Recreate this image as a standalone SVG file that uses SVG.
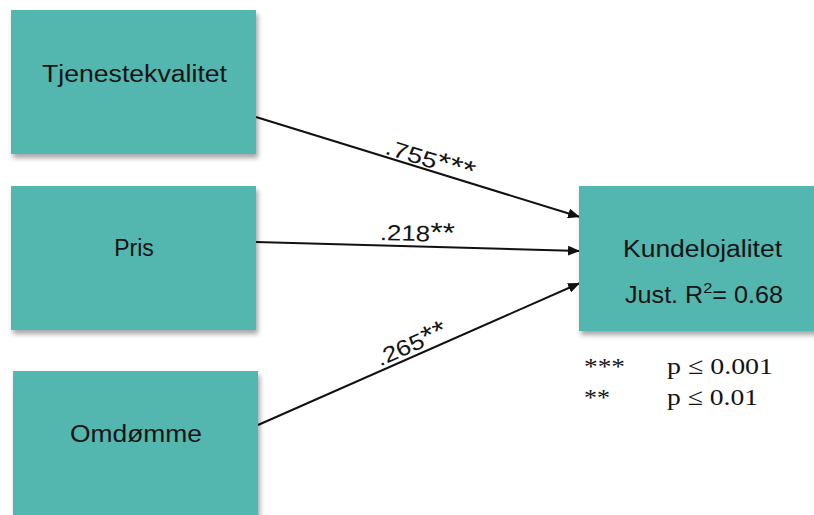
<svg xmlns="http://www.w3.org/2000/svg" width="814" height="515" viewBox="0 0 814 515">
  <style>
    .box { fill: #53b6af; filter: url(#shadow); }
    .lbl { font-family: "Liberation Sans", Arial, sans-serif; font-size: 23px; fill: #141414; text-anchor: middle; }
    .coef { font-family: "Liberation Sans", Arial, sans-serif; font-size: 22px; fill: #141414; text-anchor: middle; }
    .star { font-size: 27px; }
    .leg { font-family: "Liberation Serif", "Times New Roman", serif; font-size: 24px; fill: #141414; }
    .conn line { stroke: #111; stroke-width: 2; marker-end: url(#arrow); }
  </style>
  <defs>
    <filter id="shadow" x="-10%" y="-10%" width="130%" height="130%">
      <feDropShadow dx="2" dy="4" stdDeviation="2.5" flood-color="#000" flood-opacity="0.35"/>
    </filter>
    <marker id="arrow" viewBox="0 0 12 10" refX="12" refY="5" markerWidth="12" markerHeight="10" markerUnits="userSpaceOnUse" orient="auto">
      <path d="M0,0 L12,5 L0,10 Z" fill="#111"/>
    </marker>
  </defs>

  <rect width="814" height="515" fill="#fff"/>

  <!-- connectors with their path coefficients -->
  <g id="connectors" class="conn">
    <line x1="256" y1="117" x2="580" y2="217"/>
    <line x1="256" y1="242" x2="580" y2="251"/>
    <line x1="258" y1="425" x2="580" y2="283"/>
    <g transform="translate(427,170) rotate(17.2)">
      <text class="coef" x="0" y="-3" textLength="92" lengthAdjust="spacingAndGlyphs">.755<tspan class="star">***</tspan></text>
    </g>
    <g transform="translate(417,245) rotate(1.6)">
      <text class="coef" x="0" y="-4" textLength="75" lengthAdjust="spacingAndGlyphs">.218<tspan class="star">**</tspan></text>
    </g>
    <g transform="translate(416,355) rotate(-23.8)">
      <text class="coef" x="0" y="-4" textLength="75" lengthAdjust="spacingAndGlyphs">.265<tspan class="star">**</tspan></text>
    </g>
  </g>

  <g id="tjenestekvalitet">
    <rect class="box" x="11" y="10" width="245" height="144"/>
    <text class="lbl" x="134.5" y="82" textLength="185" lengthAdjust="spacingAndGlyphs">Tjenestekvalitet</text>
  </g>

  <g id="pris">
    <rect class="box" x="11" y="186" width="245" height="144"/>
    <text class="lbl" x="134" y="256">Pris</text>
  </g>

  <g id="omdomme">
    <rect class="box" x="13" y="371" width="245" height="160"/>
    <text class="lbl" x="136" y="442" textLength="132" lengthAdjust="spacingAndGlyphs">Omdømme</text>
  </g>

  <g id="kundelojalitet">
    <rect class="box" x="579" y="186" width="250" height="145"/>
    <text class="lbl" x="702.5" y="257" textLength="159" lengthAdjust="spacingAndGlyphs">Kundelojalitet</text>
    <text class="lbl" x="625" y="303" style="text-anchor:start" textLength="158" lengthAdjust="spacingAndGlyphs">Just. R<tspan font-size="15" dy="-10">2</tspan><tspan dy="10">= 0.68</tspan></text>
  </g>

  <g id="legend">
    <text class="leg" x="584" y="374" textLength="41" lengthAdjust="spacingAndGlyphs">***</text>
    <text class="leg" x="667" y="374" textLength="106" lengthAdjust="spacingAndGlyphs">p ≤ 0.001</text>
    <text class="leg" x="584" y="405" textLength="26" lengthAdjust="spacingAndGlyphs">**</text>
    <text class="leg" x="667" y="405" textLength="91" lengthAdjust="spacingAndGlyphs">p ≤ 0.01</text>
  </g>
</svg>
